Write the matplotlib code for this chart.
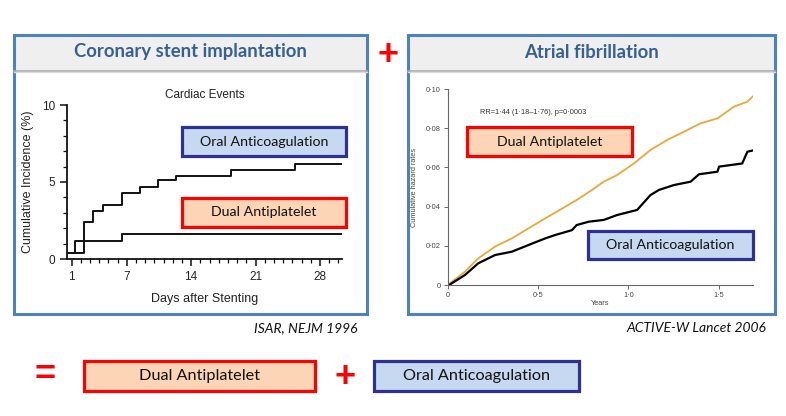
import matplotlib
matplotlib.use("Agg")
import matplotlib.pyplot as plt
from matplotlib.patches import Rectangle
from matplotlib.ticker import MultipleLocator, FixedLocator

# ---------------- data ----------------
# ISAR (coronary stent) - cumulative incidence (%) of cardiac events
stent_days_oac = [0.5, 2.4, 3.3, 4.4, 6.5, 8.4, 10.4, 12.3, 18.3, 25.3, 30.4]
stent_inc_oac = [0.4, 2.4, 3.1, 3.5, 4.3, 4.7, 5.1, 5.4, 5.8, 6.2, 6.2]
stent_days_dapt = [0.5, 1.4, 6.5, 30.4]
stent_inc_dapt = [0.4, 1.2, 1.6, 1.6]
stent_xticks = [1, 7, 14, 21, 28]
stent_yticks = [0, 5, 10]

# ACTIVE-W (atrial fibrillation) - cumulative hazard rates
af_years_dapt = [0.0, 0.011, 0.094, 0.168, 0.261, 0.354, 0.446, 0.539, 0.632, 0.724,
                 0.798, 0.863, 0.937, 1.03, 1.122, 1.215, 1.307, 1.40, 1.493, 1.585,
                 1.659, 1.687]
af_rate_dapt = [0.0, 0.0009, 0.0068, 0.0136, 0.0196, 0.0238, 0.0289, 0.034, 0.039, 0.044,
                0.0485, 0.0527, 0.0561, 0.062, 0.0689, 0.074, 0.0782, 0.0825, 0.085, 0.091,
                0.0935, 0.0961]
af_years_oac = [0.0, 0.011, 0.094, 0.168, 0.261, 0.354, 0.446, 0.539, 0.594, 0.687, 0.713,
                0.78, 0.863, 0.937, 1.048, 1.122, 1.169, 1.252, 1.344, 1.391, 1.493,
                1.502, 1.63, 1.659, 1.687]
af_rate_oac = [0.0, 0.0003, 0.0051, 0.0111, 0.0153, 0.017, 0.0204, 0.0238, 0.0255, 0.028,
               0.0306, 0.0323, 0.0332, 0.0357, 0.0383, 0.0459, 0.0485, 0.051, 0.0527,
               0.0565, 0.0578, 0.0604, 0.062, 0.068, 0.0686]
af_xticks = [0, 0.5, 1.0, 1.5]
af_xticklabels = ["0", "0\u00b75", "1\u00b70", "1\u00b75"]
af_yticks = [0, 0.02, 0.04, 0.06, 0.08, 0.10]
af_yticklabels = ["0", "0\u00b702", "0\u00b704", "0\u00b706", "0\u00b708", "0\u00b710"]

# ---------------- style ----------------
W, H = 786, 416
CAL = ["Lato", "DejaVu Sans"]
ARIAL = ["Liberation Sans", "DejaVu Sans"]
FRAME = "#4f81bd"
TITLE_C = "#376092"
RED = "#ff0000"
NAVY = "#2e3192"
PEACH = "#fbd5b5"
LBLUE = "#c6d9f1"
ORANGE = "#e8a83a"

fig = plt.figure(figsize=(W / 100, H / 100), dpi=100)
fig.patch.set_facecolor("white")


def fax(x0, y0, x1, y1):
    return [x0 / W, 1 - y1 / H, (x1 - x0) / W, (y1 - y0) / H]


# background layer (pixel coords)
bg = fig.add_axes([0, 0, 1, 1], zorder=0)
bg.set_xlim(0, W)
bg.set_ylim(H, 0)
bg.axis("off")

for (x0, y0, x1, y1, title) in [(14, 35, 367, 314, "Coronary stent implantation"),
                                (408, 35, 775, 314, "Atrial fibrillation")]:
    bg.add_patch(Rectangle((x0, y0), x1 - x0, y1 - y0, facecolor="white",
                           edgecolor="none"))
    bg.add_patch(Rectangle((x0, y0), x1 - x0, 35, facecolor="#efefef",
                           edgecolor="none"))
    bg.plot([x0, x1], [70.5, 70.5], color="#a8a8a8", lw=1.2)
    bg.plot([x0, x1], [72, 72], color="#dcdcdc", lw=1.0)
    bg.add_patch(Rectangle((x0, y0), x1 - x0, y1 - y0, facecolor="none",
                           edgecolor=FRAME, lw=2.2))
    bg.text((x0 + x1) / 2, 52, title, ha="center", va="center", fontsize=13.3,
            fontweight="bold", color=TITLE_C, family=CAL)

# ---------------- left chart ----------------
ax1 = fig.add_axes(fax(67, 105, 342, 259), zorder=1)
ax1.patch.set_alpha(0)
ax1.plot(stent_days_oac, stent_inc_oac, drawstyle="steps-post", color="#111111", lw=1.4)
ax1.plot(stent_days_dapt, stent_inc_dapt, drawstyle="steps-post", color="#111111", lw=1.4)
ax1.set_xlim(0.5, 30.4)
ax1.set_ylim(0, 10)
for s in ["top", "right"]:
    ax1.spines[s].set_visible(False)
for s in ["left", "bottom"]:
    ax1.spines[s].set_linewidth(1.3)
    ax1.spines[s].set_color("#111111")
ax1.xaxis.set_major_locator(FixedLocator(stent_xticks))
ax1.xaxis.set_minor_locator(MultipleLocator(1))
ax1.yaxis.set_major_locator(FixedLocator(stent_yticks))
ax1.yaxis.set_minor_locator(MultipleLocator(1))
ax1.tick_params(which="major", length=5, width=1.1, labelsize=8.5, color="#111111",
                labelcolor="#222222")
ax1.tick_params(which="minor", length=3, width=0.9, color="#111111")
for lab in ax1.get_xticklabels() + ax1.get_yticklabels():
    lab.set_family(ARIAL)
ax1.set_xlabel("Days after Stenting", fontsize=9, family=ARIAL, color="#222222",
               labelpad=7)
ax1.set_ylabel("Cumulative Incidence (%)", fontsize=9, family=ARIAL, color="#222222",
               labelpad=6)
ax1.set_title("Cardiac Events", fontsize=8.5, family=ARIAL, color="#222222", pad=5)

# ---------------- right chart ----------------
ax2 = fig.add_axes(fax(448, 89, 753, 285), zorder=1)
ax2.patch.set_alpha(0)
ax2.plot(af_years_dapt, af_rate_dapt, color=ORANGE, lw=1.3)
ax2.plot(af_years_oac, af_rate_oac, color="black", lw=1.6)
ax2.set_xlim(0, 1.69)
ax2.set_ylim(0, 0.10)
for s in ["top", "right"]:
    ax2.spines[s].set_visible(False)
for s in ["left", "bottom"]:
    ax2.spines[s].set_linewidth(0.8)
    ax2.spines[s].set_color("#666666")
ax2.set_xticks(af_xticks)
ax2.set_xticklabels(af_xticklabels)
ax2.set_yticks(af_yticks)
ax2.set_yticklabels(af_yticklabels)
ax2.tick_params(length=3, width=0.7, color="#666666", labelsize=5.3, labelcolor="#444444",
                pad=2)
for lab in ax2.get_xticklabels() + ax2.get_yticklabels():
    lab.set_family(ARIAL)
ax2.set_xlabel("Years", fontsize=5.3, family=ARIAL, color="#444444", labelpad=1)
ax2.set_ylabel("Cumulative hazard rates", fontsize=5.3, family=ARIAL, color="#444444",
               labelpad=6)
ax2.text(0.18, 0.088, "RR=1\u00b744 (1\u00b718\u20131\u00b776), p=0\u00b70003",
         fontsize=5.3, family=ARIAL, color="#333333", ha="left", va="center")

# ---------------- overlay (boxes, text) ----------------
ov = fig.add_axes([0, 0, 1, 1], zorder=2)
ov.set_xlim(0, W)
ov.set_ylim(H, 0)
ov.axis("off")
ov.patch.set_alpha(0)


def box(x0, y0, x1, y1, text, fc, ec, fs=10.2):
    ov.add_patch(Rectangle((x0, y0), x1 - x0, y1 - y0, facecolor=fc, edgecolor=ec,
                           lw=2.3))
    ov.text((x0 + x1) / 2, (y0 + y1) / 2, text, ha="center", va="center",
            fontsize=fs, family=CAL, color="#111111")


box(182, 127, 346, 156, "Oral Anticoagulation", LBLUE, NAVY)
box(182, 198, 346, 227, "Dual Antiplatelet", PEACH, RED)
box(467, 127, 632, 156, "Dual Antiplatelet", PEACH, RED)
box(588, 231, 753, 259, "Oral Anticoagulation", LBLUE, NAVY)
box(84, 361, 315, 391, "Dual Antiplatelet", PEACH, RED, fs=11.7)
box(374, 361, 579, 391, "Oral Anticoagulation", LBLUE, NAVY, fs=11.7)

ov.text(388, 55, "+", ha="center", va="center", fontsize=26, fontweight="bold",
        color=RED, family=ARIAL)
ov.text(345, 377, "+", ha="center", va="center", fontsize=26, fontweight="bold",
        color=RED, family=ARIAL)
ov.text(45, 376, "=", ha="center", va="center", fontsize=26, fontweight="bold",
        color=RED, family=ARIAL)

ov.text(357, 328, "ISAR, NEJM 1996", ha="right", va="center", fontsize=10,
        style="italic", family=CAL, color="#111111")
ov.text(766, 328, "ACTIVE-W Lancet 2006", ha="right", va="center", fontsize=10,
        style="italic", family=CAL, color="#111111")

fig.savefig("out.png", dpi=100, facecolor="white")
